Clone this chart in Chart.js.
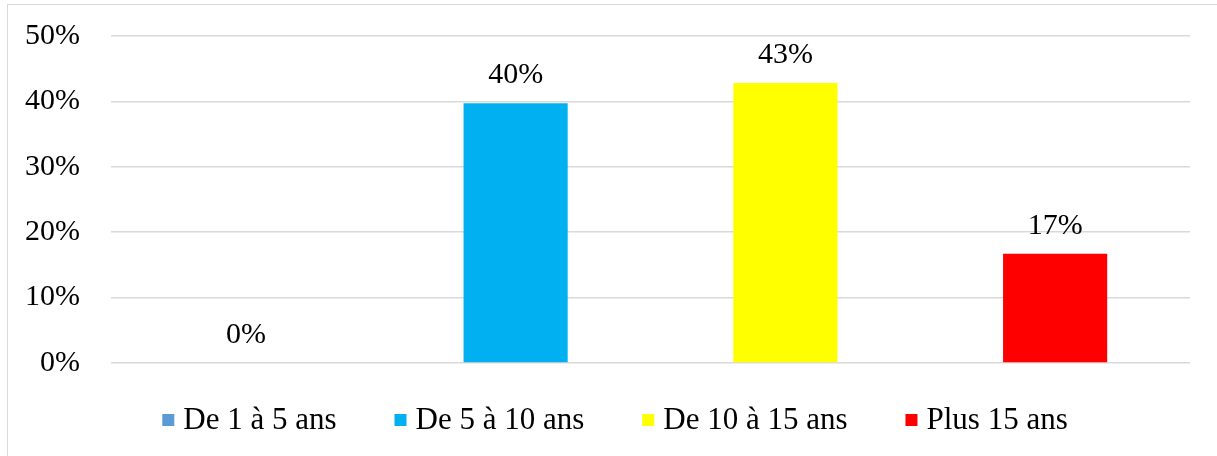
<!DOCTYPE html>
<html>
<head>
<meta charset="utf-8">
<script src="https://cdn.jsdelivr.net/npm/chart.js@4/dist/chart.umd.min.js"></script>
<style>
    body { margin: 0; background: #fff; }
    #frame { position: absolute; left: 7px; top: 4px; width: 1400px; height: 600px; border: 1.5px solid #d9d9d9; }
    #myChart { position: absolute; left: 0; top: 0; }
</style>
</head>
<body>
<div id="frame"></div>
<canvas id="myChart" width="1217" height="456"></canvas>
<script>
const categories = ['De 1 à 5 ans', 'De 5 à 10 ans', 'De 10 à 15 ans', 'Plus 15 ans'];
const values = [0, 39.7, 42.8, 16.7];
const colors = ['#5B9BD5', '#00B0F0', '#FFFF00', '#FF0000'];
const yTicks = [0, 10, 20, 30, 40, 50];

const serif = "'Liberation Serif', 'Times New Roman', serif";

// one dataset per category so each gets its own legend entry
const datasets = categories.map((name, i) => ({
    label: name,
    data: values.map((v, j) => j === i ? v : null),
    backgroundColor: colors[i],
    borderWidth: 0,
    categoryPercentage: 1,
    barPercentage: 0.386,
    skipNull: true,
}));

const valueLabels = {
    id: 'valueLabels',
    afterDatasetsDraw(chart) {
        const ctx = chart.ctx;
        ctx.save();
        ctx.font = `30px ${serif}`;
        ctx.fillStyle = '#000';
        ctx.textAlign = 'center';
        ctx.textBaseline = 'alphabetic';
        chart.data.datasets.forEach((ds, i) => {
            const meta = chart.getDatasetMeta(i);
            meta.data.forEach((bar, j) => {
                if (ds.data[j] === null) return;
                ctx.fillText(Math.round(ds.data[j]) + '%', bar.x, bar.y - 20);
            });
        });
        ctx.restore();
    }
};

// legend drawn by hand to get the spacing of the original
const bottomLegend = {
    id: 'bottomLegend',
    afterDraw(chart) {
        const ctx = chart.ctx;
        const box = 12, gap = 9, spacing = 58, y = 420;
        ctx.save();
        ctx.font = `31px ${serif}`;
        ctx.textBaseline = 'middle';
        ctx.textAlign = 'left';
        const items = chart.data.datasets.map(ds => ({
            text: ds.label,
            color: ds.backgroundColor,
            w: box + gap + ctx.measureText(ds.label).width,
        }));
        const total = items.reduce((s, it) => s + it.w, 0) + spacing * (items.length - 1);
        let x = 615 - total / 2;
        items.forEach(it => {
            ctx.fillStyle = it.color;
            ctx.fillRect(x, y - box / 2, box, box);
            ctx.fillStyle = '#000';
            ctx.fillText(it.text, x + box + gap, y + 1);
            x += it.w + spacing;
        });
        ctx.restore();
    }
};

const ctx = document.getElementById('myChart').getContext('2d');
new Chart(ctx, {
    type: 'bar',
    data: { labels: categories, datasets: datasets },
    plugins: [valueLabels, bottomLegend],
    options: {
        responsive: false,
        animation: false,
        layout: { padding: { left: 25, right: 27, top: 36, bottom: 93 } },
        scales: {
            x: {
                display: false,
            },
            y: {
                min: 0,
                max: 50,
                afterBuildTicks: axis => { axis.ticks = yTicks.map(v => ({ value: v })); },
                afterFit: axis => {
                    axis.width = 86;
                    axis.paddingTop = 0;
                    axis.paddingBottom = 0;
                },
                ticks: {
                    padding: 31,
                    color: '#000',
                    font: { family: serif, size: 30 },
                    callback: v => v + '%',
                },
                grid: { color: '#d9d9d9', lineWidth: 1.5, drawTicks: false },
                border: { display: false },
            }
        },
        plugins: {
            tooltip: { enabled: false },
            legend: { display: false }
        }
    }
});
</script>
</body>
</html>
